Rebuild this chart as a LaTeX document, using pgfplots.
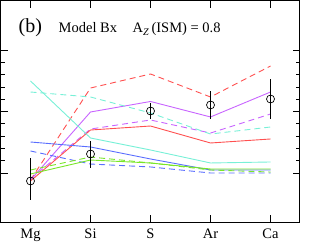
\documentclass[border=0pt]{standalone}
\usepackage{fontspec}
\setmainfont{Liberation Serif}
\usepackage{pgfplots}
\pgfplotsset{compat=1.18}
\definecolor{cred}{RGB}{255,80,80}
\definecolor{cmag}{RGB}{200,100,255}
\definecolor{ccyan}{RGB}{120,240,215}
\definecolor{cblue}{RGB}{90,110,255}
\definecolor{cgreen}{RGB}{120,230,40}
\begin{document}
\begin{tikzpicture}
\useasboundingbox (-0.5bp,-23.8bp) rectangle (311.5bp,222.2bp);
\begin{axis}[at={(0,0)}, anchor=south west, scale only axis,
  width=299bp, height=221.4bp,
  xmin=-0.5, xmax=4.483, ymin=0.2, ymax=3.8,
  xtick={0,1,2,3,4}, xticklabels={Mg,Si,S,Ar,Ca},
  ytick={1,2,3}, yticklabels={}, minor y tick num=4,
  tick align=inside, major tick length=7bp, minor tick length=4bp,
  axis line style={line width=1bp},
  every tick/.style={black, line width=0.8bp},
  xticklabel style={font=\fontsize{14.5bp}{17bp}\selectfont, yshift=-3bp},
  clip=false,
  dsh/.style={dash pattern=on 6bp off 4bp}
]
\addplot[cred, dsh, line width=0.9bp, mark=none] coordinates {(0,0.886) (1,2.382) (2,2.610) (3,2.236) (4,2.740)};
\addplot[cmag, line width=0.9bp, mark=none] coordinates {(0,0.886) (1,1.992) (2,2.163) (3,1.911) (4,2.317)};
\addplot[cmag, dsh, line width=0.9bp, mark=none] coordinates {(0,0.902) (1,1.715) (2,1.862) (3,1.650) (4,1.959)};
\addplot[cred, line width=0.9bp, mark=none] coordinates {(0,0.870) (1,1.699) (2,1.764) (3,1.488) (4,1.553)};
\addplot[ccyan, dsh, line width=0.9bp, mark=none] coordinates {(0,2.317) (1,2.236) (2,1.976) (3,1.634) (4,1.748)};
\addplot[ccyan, line width=0.9bp, mark=none] coordinates {(0,2.496) (1,1.569) (2,1.374) (3,1.163) (4,1.179)};
\addplot[cblue, line width=0.9bp, mark=none] coordinates {(0,1.504) (1,1.423) (2,1.228) (3,1.049) (4,1.049)};
\addplot[cblue, dsh, line width=0.9bp, mark=none] coordinates {(0,1.358) (1,1.146) (2,1.098) (3,1.000) (4,1.000)};
\addplot[cgreen, line width=0.9bp, mark=none] coordinates {(0,0.984) (1,1.211) (2,1.163) (3,1.065) (4,1.065)};
\addplot[cgreen, dsh, line width=0.9bp, mark=none] coordinates {(0,1.049) (1,1.260) (2,1.163) (3,1.049) (4,1.016)};
\addplot[draw=none, mark=none,
  error bars/.cd, y dir=both, y explicit, error mark=none,
  error bar style={line width=1bp, black, solid}]
  coordinates {
  (0,0.870) += (0,0.374) -= (0,0.309)
  (1,1.309) += (0,0.211) -= (0,0.228)
  (2,2.008) += (0,0.130) -= (0,0.130)
  (3,2.106) += (0,0.228) -= (0,0.228)
  (4,2.203) += (0,0.325) -= (0,0.325)
  };
\addplot[only marks, mark=o, mark size=4bp,
  mark options={line width=0.7bp, draw=black, solid}]
  coordinates {(0,0.870) (1,1.309) (2,2.008) (3,2.106) (4,2.203)};
\node[anchor=base west, inner sep=0pt, font=\fontsize{20bp}{22bp}\selectfont]
  at (axis description cs:0.060,0.855) {(b)};
\node[anchor=base west, inner sep=0pt, font=\fontsize{14.5bp}{17bp}\selectfont]
  at (axis description cs:0.194,0.855) {Model Bx};
\node[anchor=base west, inner sep=0pt, font=\fontsize{14.5bp}{17bp}\selectfont]
  at (axis description cs:0.441,0.855) {A\textsubscript{\itshape Z}\,(ISM) = 0.8};
\end{axis}
\end{tikzpicture}
\end{document}
